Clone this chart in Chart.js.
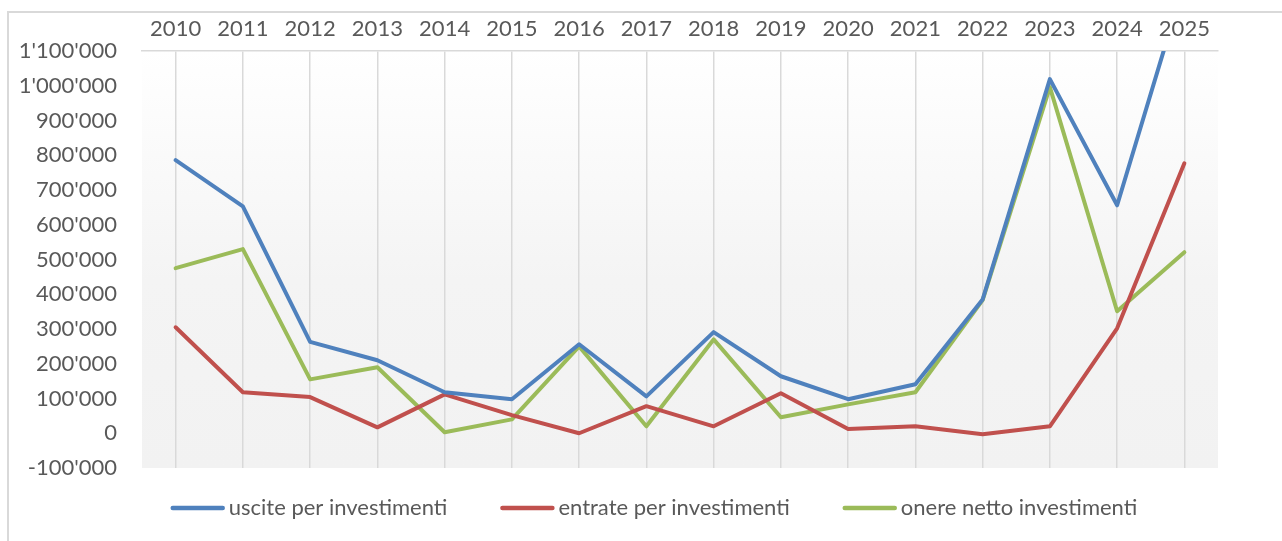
<!DOCTYPE html>
<html lang="it">
<head>
    <meta charset="UTF-8">
    <title>Investimenti 2010-2025</title>
    <script src="https://cdn.jsdelivr.net/npm/chart.js"></script>
    <style>
        body { margin: 0; background: #fff; overflow: hidden; }
        .frame { position: absolute; left: 7px; top: 11px; width: 1300px; height: 560px; border: 2px solid #d9d9d9; }
        .wrap { position: absolute; left: 0; top: 0; width: 1282px; height: 541px; }
    </style>
</head>
<body>
    <div class="frame"></div>
    <div class="wrap"><canvas id="invChart"></canvas></div>
    <script>
        const years = ['2010', '2011', '2012', '2013', '2014', '2015', '2016', '2017',
                       '2018', '2019', '2020', '2021', '2022', '2023', '2024', '2025'];
        const uscite = [786000, 653000, 263000, 210000, 118000, 98000, 256000, 106000,
                        291000, 164000, 98000, 141000, 385000, 1019000, 656000, 1298000];
        const entrate = [305000, 118000, 104000, 17000, 112000, 52000, 0, 78000,
                         20000, 115000, 12000, 20000, -3000, 20000, 302000, 777000];
        const onere = [475000, 530000, 155000, 190000, 3000, 40000, 250000, 20000,
                       270000, 46000, 83000, 118000, 383000, 996000, 351000, 521000];

        const fmt = v => {
            const s = Math.abs(v).toString().replace(/\B(?=(\d{3})+(?!\d))/g, "'");
            return v < 0 ? '-' + s : s;
        };

        // plot area fades from white to light grey
        const plotBg = {
            id: 'plotBg',
            beforeDraw(chart) {
                const { ctx, chartArea: a } = chart;
                const g = ctx.createLinearGradient(0, a.top, 0, a.bottom);
                g.addColorStop(0, '#ffffff');
                g.addColorStop(0.55, '#f4f4f4');
                g.addColorStop(1, '#f2f2f2');
                ctx.save();
                ctx.fillStyle = g;
                ctx.fillRect(a.left, a.top, a.right - a.left, a.bottom - a.top);
                ctx.restore();
            }
        };

        // excel-style legend: long line sample, text right next to it
        const lineLegend = {
            id: 'lineLegend',
            afterDraw(chart) {
                const ctx = chart.ctx;
                const sets = chart.data.datasets;
                const sample = 54, textGap = 4, itemGap = 53, y = 508, centre = 654;
                ctx.save();
                ctx.font = '22px Lato';
                ctx.textBaseline = 'middle';
                const widths = sets.map(d => ctx.measureText(d.label).width);
                const total = widths.reduce((s, w) => s + sample + textGap + w, 0) + itemGap * (sets.length - 1);
                let x = centre - total / 2;
                sets.forEach((d, i) => {
                    ctx.strokeStyle = d.borderColor;
                    ctx.lineWidth = 4.5;
                    ctx.lineCap = 'round';
                    ctx.beginPath();
                    ctx.moveTo(x + 2, y);
                    ctx.lineTo(x + sample - 2, y);
                    ctx.stroke();
                    ctx.fillStyle = '#595959';
                    ctx.fillText(d.label, x + sample + textGap, y);
                    x += sample + textGap + widths[i] + itemGap;
                });
                ctx.restore();
            }
        };

        const line = (label, data, color) => ({
            label: label,
            data: data,
            borderColor: color,
            backgroundColor: color,
            borderWidth: 4,
            pointRadius: 0,
            tension: 0,
            borderJoinStyle: 'round',
            borderCapStyle: 'round',
            clip: 0
        });

        Chart.defaults.font.family = 'Lato';
        Chart.defaults.font.size = 22;
        Chart.defaults.color = '#595959';

        new Chart(document.getElementById('invChart'), {
            type: 'line',
            data: {
                labels: years,
                datasets: [
                    line('uscite per investimenti', uscite, '#4f81bd'),
                    line('entrate per investimenti', entrate, '#c0504d'),
                    line('onere netto investimenti', onere, '#9bbb59')
                ]
            },
            options: {
                responsive: true,
                maintainAspectRatio: false,
                animation: false,
                layout: { padding: { top: 0, right: 64, bottom: 73, left: 0 } },
                plugins: {
                    tooltip: { enabled: false },
                    legend: { display: false }
                },
                scales: {
                    x: {
                        position: 'top',
                        offset: true,
                        grid: { offset: false, color: '#d9d9d9', lineWidth: 1.5, drawTicks: false },
                        border: { color: '#d9d9d9', width: 1.5 },
                        ticks: { padding: 9, maxRotation: 0 },
                        afterFit: s => { s.height = 51; }
                    },
                    y: {
                        min: -100000,
                        max: 1100000,
                        grid: { display: false, drawTicks: false },
                        border: { display: false },
                        ticks: { stepSize: 100000, padding: 25, callback: v => fmt(v) },
                        afterFit: s => { s.width = 142; }
                    }
                }
            },
            plugins: [plotBg, lineLegend]
        });
    </script>
</body>
</html>
